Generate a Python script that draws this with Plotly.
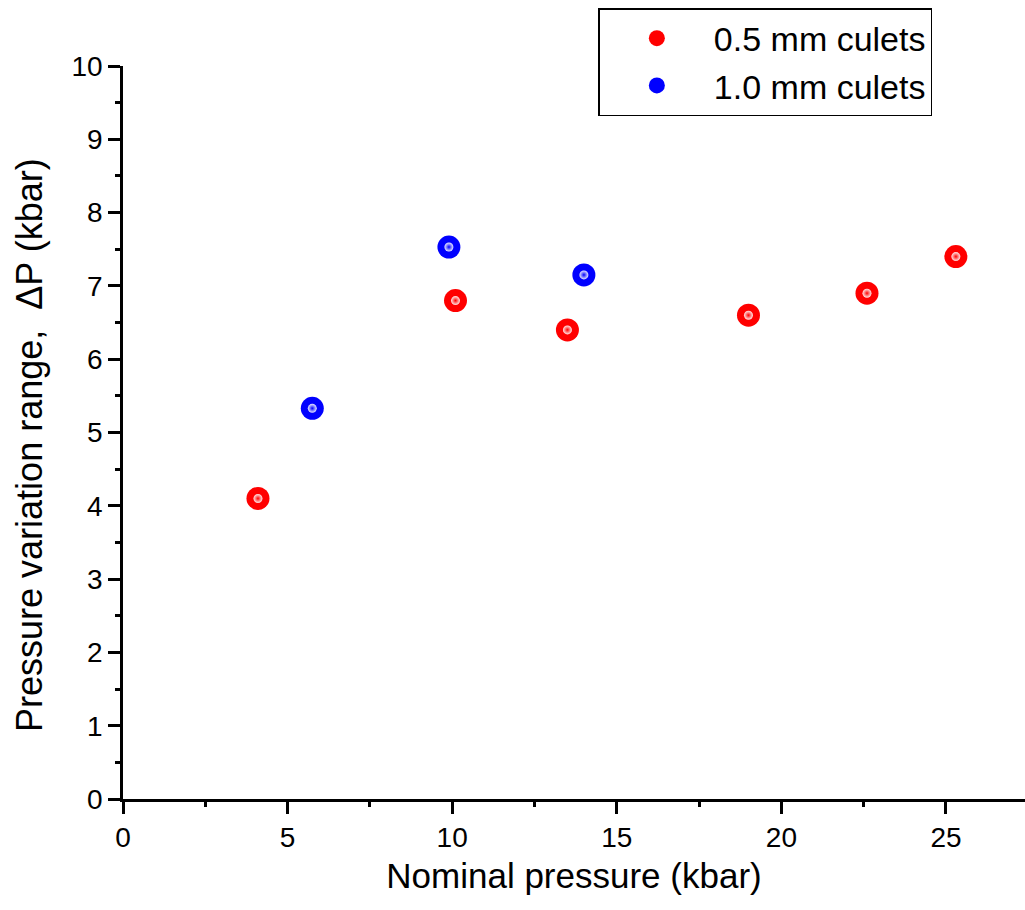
import plotly.graph_objects as go

# Data
red_label = "0.5 mm culets"
red_x = [4.1, 10.1, 13.5, 19.0, 22.6, 25.3]
red_y = [4.1, 6.8, 6.4, 6.6, 6.9, 7.4]

blue_label = "1.0 mm culets"
blue_x = [5.75, 9.9, 14.0]
blue_y = [5.33, 7.53, 7.15]

x_title = "Nominal pressure (kbar)"
y_title = "Pressure variation range,  \u0394P (kbar)"

FONT = "Liberation Sans, Arial, sans-serif"

fig = go.Figure()

def add_series(xs, ys, name, color):
    fig.add_trace(go.Scatter(
        x=xs, y=ys, mode="markers", name=name,
        marker=dict(size=23, color=color, line=dict(width=0)),
    ))
    fig.add_trace(go.Scatter(
        x=xs, y=ys, mode="markers", showlegend=False, hoverinfo="skip",
        marker=dict(size=9, color="rgba(255,255,255,0.9)", line=dict(width=0),
                    gradient=dict(type="radial", color=color)),
    ))

add_series(red_x, red_y, red_label, "#ff0000")
add_series(blue_x, blue_y, blue_label, "#0000ff")

axis_common = dict(
    showline=True, linecolor="black", linewidth=2.5,
    ticks="outside", ticklen=12, tickwidth=2.5, tickcolor="black",
    showgrid=False, zeroline=False, mirror=False,
    tickfont=dict(family=FONT, size=28, color="black"),
)

fig.update_xaxes(
    range=[0, 27.4], tickmode="linear", tick0=0, dtick=5,
    minor=dict(ticks="outside", ticklen=5, tickwidth=2.5, tickcolor="black", dtick=2.5, tick0=0, showgrid=False),
    title=dict(text=x_title, font=dict(family=FONT, size=35, color="black"), standoff=12),
    **axis_common,
)
fig.update_yaxes(
    range=[0, 10], tickmode="linear", tick0=0, dtick=1,
    minor=dict(ticks="outside", ticklen=5, tickwidth=2.5, tickcolor="black", dtick=0.5, tick0=0, showgrid=False),
    **axis_common,
)

fig.add_annotation(
    text=y_title, textangle=-90, showarrow=False,
    xref="paper", yref="paper", x=-0.1031, y=0.483,
    xanchor="center", yanchor="middle",
    font=dict(family=FONT, size=36, color="black"),
)

fig.update_layout(
    width=1025, height=910,
    margin=dict(l=123, r=0, t=66, b=111),
    plot_bgcolor="white", paper_bgcolor="white",
    showlegend=True,
    legend=dict(
        x=0.527, y=1.079, xanchor="left", yanchor="top",
        bordercolor="black", borderwidth=1.5, bgcolor="white",
        font=dict(family=FONT, size=34, color="black"),
        itemwidth=104, tracegroupgap=0,
    ),
)

fig.write_html("out.html")
